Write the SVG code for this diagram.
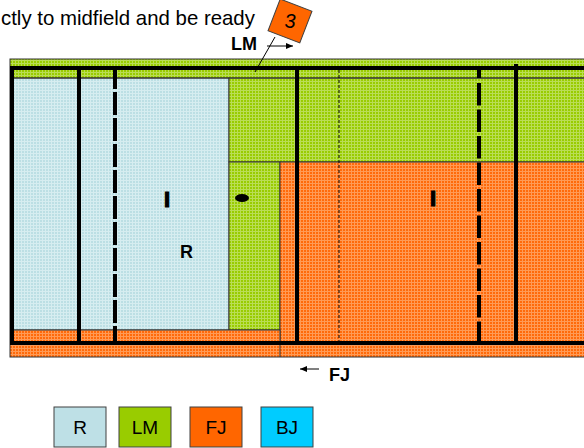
<svg xmlns="http://www.w3.org/2000/svg" width="584" height="448" viewBox="0 0 584 448">
<style>
.t{font-family:"Liberation Sans",Arial,sans-serif;fill:#000}
.b{font-weight:bold}
.thk{stroke:#000;stroke-width:4;fill:none}
.thin{stroke:#333;stroke-width:1}
.leg{stroke:#404040;stroke-width:1}
</style>
<defs>
<pattern id="pB" width="3" height="3" patternUnits="userSpaceOnUse">
<rect width="3" height="3" fill="#BCDFE4"/><rect width="3" height="1" fill="#D6EDF0"/><rect width="1" height="3" fill="#D6EDF0"/>
</pattern>
<pattern id="pG" width="3" height="3" patternUnits="userSpaceOnUse">
<rect width="3" height="3" fill="#99CC00"/><rect width="3" height="1" fill="#BADD55"/><rect width="1" height="3" fill="#BADD55"/>
</pattern>
<pattern id="pO" width="3" height="3" patternUnits="userSpaceOnUse">
<rect width="3" height="3" fill="#FF6A0A"/><rect width="3" height="1" fill="#FF9A55"/><rect width="1" height="3" fill="#FF9A55"/>
</pattern>
<marker id="ah" markerWidth="8" markerHeight="8" refX="7" refY="4" orient="auto" markerUnits="userSpaceOnUse">
<path d="M0,1 L7,4 L0,7 Z" fill="#000"/>
</marker>
</defs>

<g id="caption">
<text class="t" x="1" y="25" font-size="20.4">ctly to midfield and be ready</text>
</g>

<g id="pitch">
<rect x="10" y="59" width="580" height="298" fill="url(#pG)"/>
<rect id="zone-R" x="12" y="78" width="217" height="252" fill="url(#pB)" class="thin"/>
<rect id="zone-LM" x="229" y="78" width="360" height="84" fill="url(#pG)" class="thin"/>
<rect id="zone-LM2" x="229" y="162" width="51" height="168" fill="url(#pG)" class="thin"/>
<rect id="zone-FJ" x="280" y="162" width="310" height="181" fill="url(#pO)" class="thin"/>
<rect id="zone-FJ2" x="12" y="330" width="268" height="13" fill="url(#pO)" class="thin"/>
<rect id="zone-FJ3" x="10" y="343" width="580" height="14" fill="url(#pO)"/>
<rect x="10" y="59" width="580" height="298" fill="none" class="thin"/>
<line x1="280" y1="343" x2="280" y2="357" class="thin"/>
<line x1="10" y1="78" x2="584" y2="78" class="thin"/>
</g>

<g id="lines">
<line x1="10" y1="68" x2="584" y2="68" class="thk"/>
<line x1="10" y1="343" x2="584" y2="343" class="thk"/>
<line x1="12" y1="66" x2="12" y2="345" class="thk"/>
<line x1="79" y1="66" x2="79" y2="341" class="thk"/>
<line x1="115" y1="66" x2="115" y2="341" class="thk" stroke-dasharray="23 3"/>
<line x1="297" y1="66" x2="297" y2="341" class="thk"/>
<line x1="339" y1="70" x2="339" y2="341" stroke="#000" stroke-width="1" stroke-dasharray="3 2"/>
<line x1="479" y1="66" x2="479" y2="78" class="thk"/>
<line x1="479" y1="83" x2="479" y2="341" class="thk" stroke-dasharray="22.5 4"/>
<line x1="516" y1="64" x2="516" y2="341" class="thk"/>
</g>

<g id="markers">
<text class="t b" x="164" y="207" font-size="22" stroke="#000" stroke-width="1.2">I</text>
<text class="t b" x="430" y="206" font-size="22" stroke="#000" stroke-width="1.2">I</text>
<ellipse cx="242" cy="198" rx="7" ry="4" fill="#000"/>
<text class="t b" x="180" y="258" font-size="18">R</text>
</g>

<g id="flag3">
<rect x="273" y="4" width="34" height="34" fill="#FF6600" stroke="#404040" stroke-width="1" transform="rotate(21 290 21)"/>
<text class="t" x="290" y="28" font-size="20" font-style="italic" text-anchor="middle">3</text>
</g>

<g id="connectors">
<line x1="275" y1="37" x2="255" y2="72" stroke="#000" stroke-width="1"/>
<line x1="267" y1="46" x2="293" y2="46" stroke="#000" stroke-width="1" marker-end="url(#ah)"/>
<line x1="319" y1="369" x2="300" y2="369" stroke="#000" stroke-width="1" marker-end="url(#ah)"/>
</g>

<g id="labels">
<text class="t b" x="231" y="50" font-size="18">LM</text>
<text class="t b" x="329" y="381" font-size="18">FJ</text>
</g>

<g id="legend">
<g id="leg-R"><rect x="54" y="407" width="52" height="40" fill="#BEE0E6" class="leg"/><text class="t" x="80" y="434" font-size="19" text-anchor="middle">R</text></g>
<g id="leg-LM"><rect x="119" y="407" width="52" height="40" fill="#99CC00" class="leg"/><text class="t" x="145" y="434" font-size="19" text-anchor="middle">LM</text></g>
<g id="leg-FJ"><rect x="190" y="407" width="52" height="40" fill="#FF6600" class="leg"/><text class="t" x="216" y="434" font-size="19" text-anchor="middle">FJ</text></g>
<g id="leg-BJ"><rect x="261" y="407" width="52" height="40" fill="#00CCFF" class="leg"/><text class="t" x="287" y="434" font-size="19" text-anchor="middle">BJ</text></g>
</g>
</svg>
